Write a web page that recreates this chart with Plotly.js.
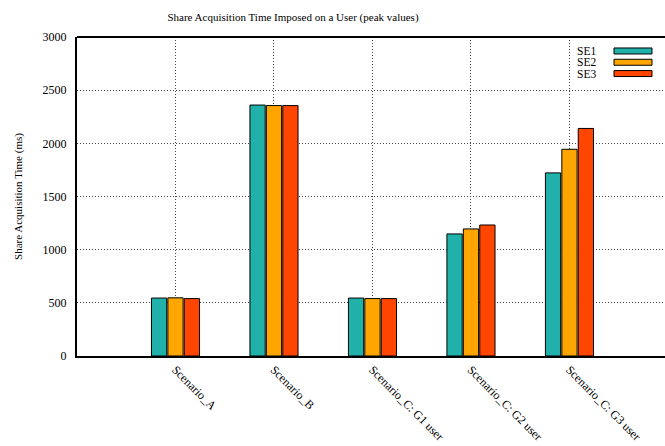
<!DOCTYPE html>
<html><head><meta charset="utf-8">
<script src="https://cdn.plot.ly/plotly-3.0.1.min.js"></script>
<style>html,body{margin:0;padding:0;overflow:hidden;background:#fff}</style>
</head><body><div id="chart" style="width:665px;height:446px"></div>
<script>
const categories = ["Scenario_A", "Scenario_B", "Scenario_C: G1 user", "Scenario_C: G2 user", "Scenario_C: G3 user"];
const seriesNames = ["SE1", "SE2", "SE3"];
const se1 = [545, 2360, 545, 1148, 1722];
const se2 = [547, 2355, 540, 1195, 1944];
const se3 = [540, 2355, 540, 1232, 2140];
const colors = ["#20B2AA", "#FFA500", "#FF4500"];
const yTicks = [0, 500, 1000, 1500, 2000, 2500, 3000];

const serif = "'Liberation Serif', 'Times New Roman', serif";
const values = [se1, se2, se3];
const traces = values.map((v, i) => ({
  type: "bar", x: categories, y: v, name: seriesNames[i],
  marker: {color: colors[i], line: {color: "#000", width: 1}},
  showlegend: false
}));

// gnuplot-style legend: label then wide sample box
const shapes = [{type: "line", xref: "paper", yref: "paper", x0: 0, x1: 1, y0: 1, y1: 1,
  line: {color: "#000", width: 2}}];
const annotations = [];
seriesNames.forEach((n, i) => {
  const yc = 1 - (14 + i * 11.3) / 319.5;
  shapes.push({type: "rect", xref: "paper", yref: "paper",
    x0: (614 - 77) / 588, x1: (652 - 77) / 588, y0: yc - 3 / 319.5, y1: yc + 3 / 319.5,
    fillcolor: colors[i], line: {color: "#000", width: 1}});
  annotations.push({xref: "paper", yref: "paper", x: (597 - 77) / 588, y: yc,
    xanchor: "right", yanchor: "middle", showarrow: false, text: n, borderpad: 0,
    font: {family: serif, size: 11.5, color: "#000"}});
});

const layout = {
  width: 665, height: 446,
  margin: {l: 77, r: 0, t: 37, b: 90},
  paper_bgcolor: "#fff", plot_bgcolor: "#fff",
  title: {text: "Share Acquisition Time Imposed on a User (peak values)",
    font: {family: serif, size: 11, color: "#000"}, xref: "container", x: 293 / 665, xanchor: "center",
    yref: "container", y: 1 - 17 / 446, yanchor: "middle"},
  barmode: "group", bargap: 0.5, bargroupgap: 0.07,
  font: {family: serif, size: 12, color: "#000"},
  xaxis: {type: "category", range: [-1, 4.97], showline: true, linecolor: "#000", linewidth: 2,
    showgrid: true, gridcolor: "#444", griddash: "1px,2px", gridwidth: 1,
    tickangle: 45, tickfont: {family: serif, size: 12, color: "#000"}, ticks: "", zeroline: false},
  yaxis: {range: [0, 3000], tickvals: yTicks, showline: true, linecolor: "#000", linewidth: 2,
    showgrid: true, gridcolor: "#444", griddash: "1px,2px", gridwidth: 1, zeroline: false,
    tickfont: {family: serif, size: 12, color: "#000"}, ticks: "", ticklabelstandoff: 6,
    title: {text: "Share Acquisition Time (ms)", font: {family: serif, size: 11, color: "#000"}, standoff: 18}},
  shapes: shapes, annotations: annotations
};
Plotly.newPlot("chart", traces, layout, {staticPlot: true});
</script></body></html>
